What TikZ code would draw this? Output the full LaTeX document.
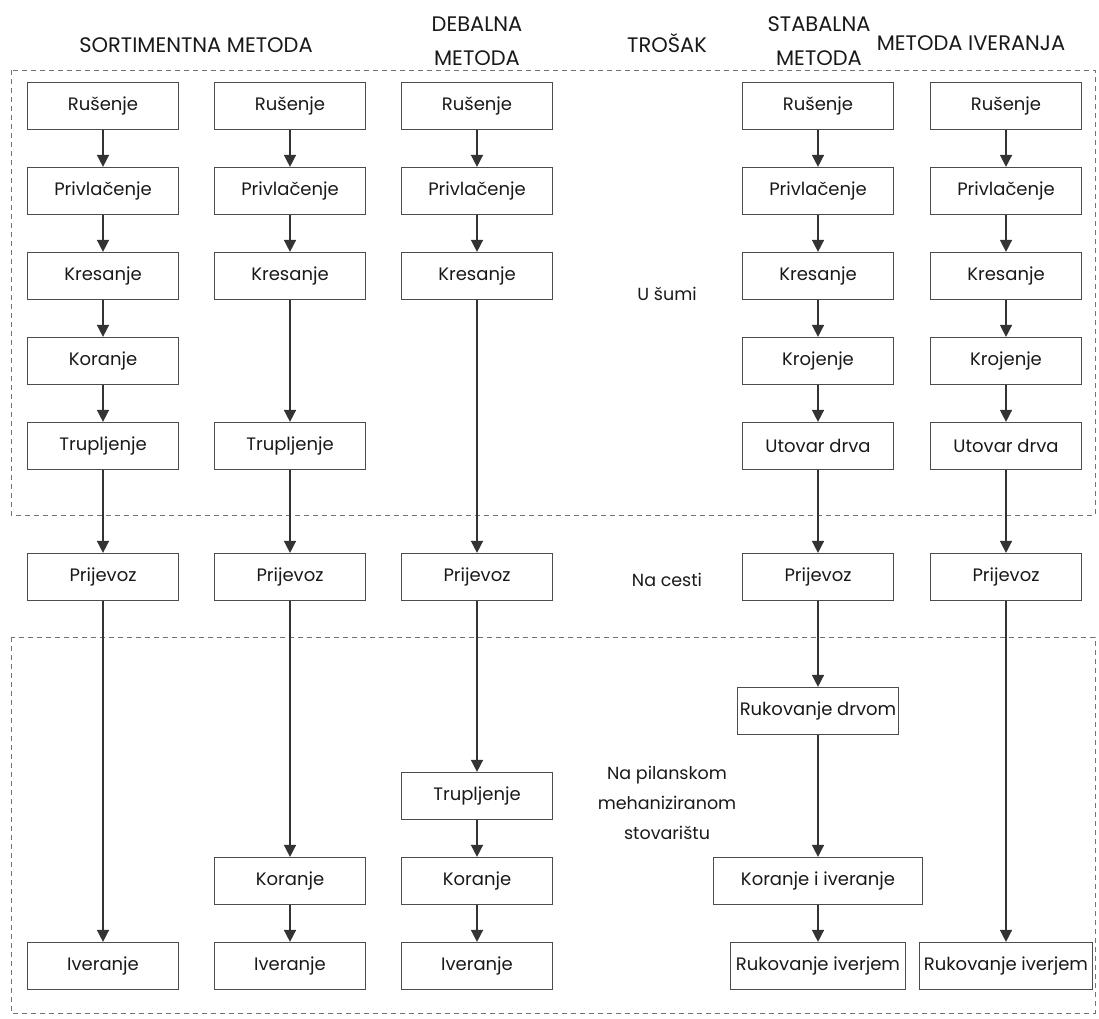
\documentclass[tikz,border=0pt]{standalone}
\usepackage{fontspec}
\setmainfont{Poppins}
\usetikzlibrary{arrows.meta}

\tikzset{
  box/.style={draw=black!70, line width=1.2pt, minimum width=151pt, minimum height=47pt,
    inner sep=2pt, text=black!90, font=\fontsize{18}{20}\selectfont},
  flow/.style={draw=black!80, line width=1.5pt, -{Triangle[width=12pt,length=12pt]}},
  zone/.style={draw=black!55, line width=1pt, dash pattern=on 5pt off 4pt},
  head/.style={text=black!90, align=center, font=\fontsize{21}{34}\selectfont},
  lab/.style={text=black!90, align=center, font=\fontsize{17.5}{30}\selectfont}
}

\begin{document}
\begin{tikzpicture}[x=1pt, y=-1pt]
  \useasboundingbox (0,0) rectangle (1099,1018);

  % Zones (in the forest, at the yard)
  \draw[zone] (11,70) rectangle (1095,515);
  \draw[zone] (11,637) rectangle (1095,1013);

  % Column headings
  \node[head] (hsort) at (196,45) {SORTIMENTNA METODA};
  \node[head] (hdeb)  at (477,41) {DEBALNA\\METODA};
  \node[head] (htros) at (667,43) {TROŠAK};
  \node[head] (hstab) at (819,41) {STABALNA\\METODA};
  \node[head] (hiver) at (971,43) {METODA IVERANJA};

  % Cost places
  \node[lab] (usumi)  at (667,294) {U šumi};
  \node[lab] (ncesti) at (667,580) {Na cesti};
  \node[lab] (pilana) at (667,803) {Na pilanskom\\mehaniziranom\\stovarištu};

  % Sortimentna metoda, first chain
  \foreach \i/\y/\txt in {1/106/Rušenje, 2/191/Privlačenje, 3/276/Kresanje, 4/361/Koranje,
      5/446/Trupljenje, 6/577/Prijevoz, 7/966/Iveranje} {
    \node[box] (a\i) at (103,\y) {\txt};
  }
  \foreach \i/\j in {1/2, 2/3, 3/4, 4/5, 5/6, 6/7}
    \draw[flow] (a\i) -- (a\j);

  % Sortimentna metoda, second chain
  \foreach \i/\y/\txt in {1/106/Rušenje, 2/191/Privlačenje, 3/276/Kresanje, 4/446/Trupljenje,
      5/577/Prijevoz, 6/881/Koranje, 7/966/Iveranje} {
    \node[box] (b\i) at (290,\y) {\txt};
  }
  \foreach \i/\j in {1/2, 2/3, 3/4, 4/5, 5/6, 6/7}
    \draw[flow] (b\i) -- (b\j);

  % Debalna metoda
  \foreach \i/\y/\txt in {1/106/Rušenje, 2/191/Privlačenje, 3/276/Kresanje, 4/577/Prijevoz,
      5/796/Trupljenje, 6/881/Koranje, 7/966/Iveranje} {
    \node[box] (c\i) at (477,\y) {\txt};
  }
  \foreach \i/\j in {1/2, 2/3, 3/4, 4/5, 5/6, 6/7}
    \draw[flow] (c\i) -- (c\j);

  % Stabalna metoda
  \foreach \i/\y/\w/\txt in {1/106/151/Rušenje, 2/191/151/Privlačenje, 3/276/151/Kresanje,
      4/361/151/Krojenje, 5/446/151/Utovar drva, 6/577/151/Prijevoz, 7/711/152/Rukovanje drvom,
      8/881/209/Koranje i iveranje, 9/966/175/Rukovanje iverjem} {
    \node[box, minimum width=\w pt] (d\i) at (818,\y) {\txt};
  }
  \foreach \i/\j in {1/2, 2/3, 3/4, 4/5, 5/6, 6/7, 7/8, 8/9}
    \draw[flow] (d\i) -- (d\j);

  % Metoda iveranja
  \foreach \i/\y/\w/\txt in {1/106/151/Rušenje, 2/191/151/Privlačenje, 3/276/151/Kresanje,
      4/361/151/Krojenje, 5/446/151/Utovar drva, 6/577/151/Prijevoz, 7/966/173/Rukovanje iverjem} {
    \node[box, minimum width=\w pt] (e\i) at (1006,\y) {\txt};
  }
  \foreach \i/\j in {1/2, 2/3, 3/4, 4/5, 5/6, 6/7}
    \draw[flow] (e\i) -- (e\j);
\end{tikzpicture}
\end{document}
